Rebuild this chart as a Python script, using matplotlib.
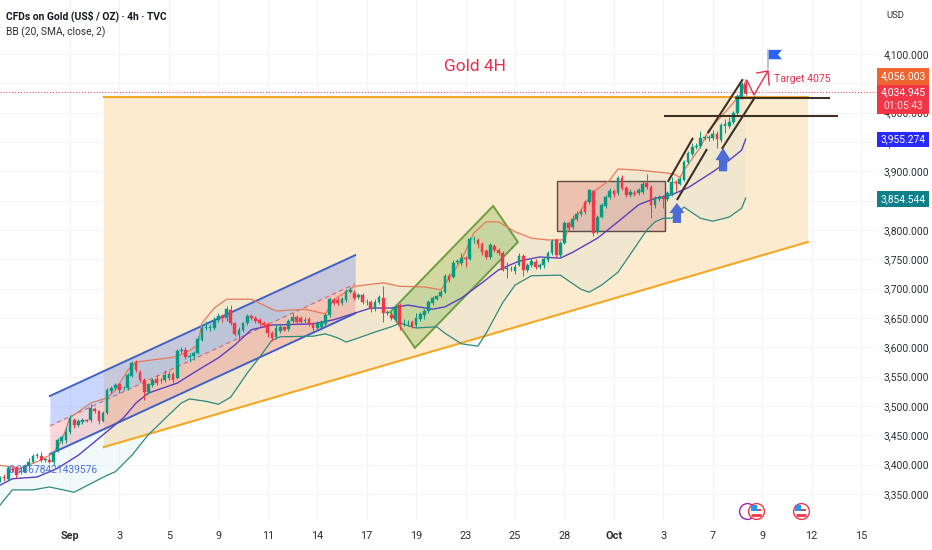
import numpy as np
import matplotlib
matplotlib.use("Agg")
import matplotlib.pyplot as plt
from matplotlib.patches import Polygon, Rectangle

plt.rcParams["font.family"] = ["Roboto", "DejaVu Sans"]

# ---- palette ----
UP     = "#089981"
DOWN   = "#f23645"
ORANGE = "#f5a623"
SAND   = "#fdebd0"
DARK   = "#3e2f23"
BLUE   = "#3f5fc9"
ARROW  = "#4a6cd4"
TEXT   = "#2a2e39"
RED    = "#e5304f"

# ---- candles, one per 4h bar ----
opens = [3374, 3379, 3375, 3392, 3394, 3390, 3388, 3398, 3405, 3415, 3415, 3408, 3408, 3405, 3425, 3440, 3442, 3456, 3476, 3468,
         3473, 3476, 3476, 3495, 3491, 3474, 3488, 3525, 3530, 3537, 3530, 3530, 3551, 3575, 3558, 3544, 3524, 3536, 3546, 3544,
         3544, 3548, 3555, 3548, 3593, 3596, 3584, 3585, 3590, 3612, 3633, 3633, 3633, 3647, 3653, 3650, 3664, 3641, 3621, 3630,
         3641, 3653, 3650, 3646, 3641, 3640, 3624, 3618, 3628, 3634, 3631, 3645, 3652, 3650, 3645, 3648, 3641, 3633, 3634, 3640,
         3655, 3681, 3681, 3676, 3681, 3694, 3693, 3685, 3689, 3677, 3677, 3665, 3677, 3684, 3659, 3655, 3648, 3672, 3641, 3641,
         3643, 3638, 3648, 3655, 3662, 3676, 3682, 3687, 3694, 3722, 3720, 3746, 3743, 3752, 3750, 3784, 3783, 3776, 3764, 3754,
         3773, 3766, 3761, 3733, 3733, 3730, 3740, 3756, 3732, 3740, 3745, 3737, 3740, 3749, 3761, 3783, 3757, 3778, 3812, 3805,
         3819, 3827, 3847, 3848, 3866, 3797, 3822, 3841, 3856, 3866, 3863, 3888, 3871, 3860, 3863, 3863, 3865, 3880, 3873, 3842,
         3852, 3856, 3853, 3861, 3882, 3879, 3885, 3916, 3929, 3941, 3943, 3957, 3957, 3957, 3964, 3953, 3978, 3977, 3984, 3999,
         4027, 4049]
closes = [3377, 3377, 3394, 3391, 3382, 3388, 3398, 3405, 3415, 3416, 3408, 3409, 3405, 3420, 3442, 3447, 3456, 3480, 3468, 3474,
          3476, 3475, 3496, 3491, 3474, 3488, 3527, 3530, 3536, 3527, 3531, 3553, 3573, 3561, 3544, 3524, 3537, 3544, 3539, 3545,
          3553, 3555, 3544, 3594, 3596, 3584, 3585, 3590, 3614, 3633, 3634, 3634, 3647, 3653, 3650, 3665, 3641, 3623, 3630, 3641,
          3653, 3650, 3645, 3641, 3638, 3624, 3616, 3633, 3635, 3630, 3645, 3652, 3643, 3643, 3646, 3640, 3633, 3641, 3643, 3655,
          3682, 3676, 3676, 3682, 3696, 3698, 3684, 3689, 3677, 3678, 3665, 3677, 3686, 3659, 3660, 3650, 3669, 3640, 3642, 3642,
          3636, 3650, 3657, 3662, 3677, 3684, 3687, 3694, 3722, 3715, 3744, 3747, 3752, 3750, 3785, 3785, 3776, 3762, 3754, 3774,
          3766, 3761, 3732, 3735, 3734, 3737, 3756, 3732, 3740, 3747, 3737, 3740, 3750, 3761, 3781, 3757, 3778, 3812, 3803, 3819,
          3827, 3831, 3831, 3868, 3795, 3822, 3842, 3856, 3866, 3861, 3888, 3871, 3860, 3865, 3862, 3868, 3878, 3873, 3842, 3854,
          3856, 3852, 3863, 3882, 3880, 3887, 3916, 3931, 3941, 3944, 3957, 3958, 3958, 3964, 3955, 3979, 3980, 3984, 3999, 4028,
          4049, 4034]
highs = [3380, 3384, 3398, 3396, 3397, 3394, 3401, 3412, 3418, 3420, 3422, 3412, 3414, 3423, 3446, 3450, 3465, 3484, 3480, 3478,
         3480, 3478, 3504, 3498, 3494, 3492, 3530, 3534, 3540, 3540, 3534, 3556, 3576, 3578, 3562, 3548, 3540, 3548, 3552, 3548,
         3562, 3560, 3558, 3597, 3600, 3600, 3590, 3594, 3620, 3637, 3645, 3640, 3652, 3658, 3656, 3670, 3672, 3644, 3634, 3644,
         3656, 3656, 3654, 3650, 3645, 3643, 3628, 3640, 3638, 3637, 3648, 3658, 3655, 3654, 3652, 3652, 3644, 3645, 3646, 3658,
         3686, 3684, 3686, 3686, 3700, 3702, 3698, 3692, 3693, 3682, 3680, 3682, 3690, 3704, 3664, 3660, 3672, 3675, 3648, 3646,
         3647, 3658, 3660, 3666, 3680, 3687, 3690, 3697, 3725, 3727, 3748, 3751, 3760, 3756, 3788, 3790, 3786, 3780, 3768, 3778,
         3776, 3769, 3765, 3745, 3738, 3742, 3760, 3759, 3744, 3752, 3750, 3744, 3754, 3765, 3785, 3786, 3782, 3815, 3816, 3826,
         3832, 3836, 3851, 3870, 3869, 3826, 3846, 3860, 3872, 3870, 3892, 3893, 3875, 3870, 3868, 3872, 3884, 3895, 3876, 3858,
         3860, 3860, 3867, 3890, 3886, 3890, 3919, 3934, 3948, 3948, 3968, 3962, 3962, 3970, 3968, 3982, 3990, 3992, 4003, 4032,
         4053, 4056]
lows = [3370, 3372, 3372, 3388, 3378, 3384, 3385, 3395, 3402, 3412, 3405, 3405, 3402, 3400, 3422, 3436, 3437, 3452, 3463, 3465,
        3470, 3473, 3473, 3488, 3470, 3472, 3486, 3522, 3527, 3523, 3527, 3527, 3549, 3558, 3541, 3510, 3520, 3532, 3536, 3540,
        3541, 3545, 3540, 3546, 3590, 3580, 3575, 3578, 3588, 3610, 3630, 3628, 3630, 3644, 3644, 3645, 3638, 3620, 3612, 3626,
        3638, 3646, 3641, 3636, 3634, 3618, 3610, 3614, 3625, 3627, 3628, 3642, 3640, 3640, 3642, 3636, 3625, 3630, 3630, 3636,
        3652, 3672, 3672, 3673, 3678, 3692, 3680, 3682, 3674, 3672, 3660, 3662, 3674, 3643, 3655, 3646, 3644, 3630, 3636, 3636,
        3633, 3634, 3645, 3648, 3658, 3673, 3680, 3685, 3692, 3711, 3718, 3742, 3740, 3737, 3748, 3778, 3770, 3758, 3750, 3750,
        3762, 3758, 3730, 3718, 3730, 3725, 3738, 3722, 3728, 3737, 3733, 3733, 3736, 3746, 3758, 3754, 3754, 3776, 3798, 3801,
        3816, 3824, 3828, 3845, 3790, 3794, 3820, 3838, 3853, 3856, 3860, 3868, 3856, 3857, 3858, 3860, 3862, 3870, 3820, 3838,
        3849, 3838, 3850, 3858, 3866, 3876, 3883, 3913, 3926, 3938, 3940, 3953, 3952, 3954, 3940, 3950, 3965, 3974, 3981, 3996,
        4024, 4030]

# ---- Bollinger bands, read at the bends ----
upper_bars = [0, 5, 10, 13, 15, 17, 19, 22, 26, 28, 31, 33, 42, 45, 48, 49, 52, 55, 61, 67, 74, 79, 81, 86, 93, 97, 103, 107, 109,
              112, 115, 118, 121, 125, 129, 133, 137, 138, 144, 148, 150, 155, 162, 164, 165, 166, 170, 172, 175, 180, 181]
upper_vals = [3399, 3394, 3408, 3420, 3442, 3480, 3490, 3505, 3514, 3527, 3561, 3575, 3583, 3590, 3604, 3641, 3667, 3682, 3682,
              3662, 3665, 3657, 3681, 3704, 3710, 3704, 3703, 3698, 3718, 3749, 3795, 3814, 3814, 3797, 3786, 3783, 3783, 3803,
              3865, 3885, 3904, 3902, 3897, 3894, 3889, 3902, 3941, 3970, 3993, 4033, 4056]
basis_bars = [0, 3, 9, 14, 19, 24, 30, 33, 36, 43, 48, 53, 57, 61, 66, 76, 81, 86, 90, 95, 99, 105, 108, 112, 117, 121, 126, 131,
              136, 139, 145, 150, 155, 159, 163, 167, 173, 177, 180, 181]
basis_vals = [3365, 3376, 3379, 3394, 3416, 3445, 3480, 3505, 3522, 3539, 3561, 3582, 3604, 3630, 3638, 3640, 3647, 3658, 3667,
              3667, 3672, 3665, 3669, 3684, 3710, 3732, 3747, 3754, 3752, 3762, 3786, 3814, 3843, 3854, 3860, 3872, 3899, 3919,
              3936, 3955]
lower_bars = [0, 3, 8, 12, 18, 21, 26, 28, 32, 36, 41, 44, 46, 50, 53, 56, 60, 63, 66, 68, 76, 79, 82, 84, 87, 91, 95, 97, 101,
              106, 108, 112, 116, 118, 122, 125, 129, 136, 141, 143, 146, 150, 154, 157, 159, 161, 163, 166, 170, 173, 177, 180, 181]
lower_vals = [3331, 3357, 3357, 3362, 3353, 3364, 3382, 3388, 3416, 3451, 3485, 3505, 3512, 3508, 3503, 3515, 3556, 3583, 3612,
              3618, 3619, 3623, 3616, 3609, 3616, 3626, 3635, 3641, 3633, 3635, 3624, 3606, 3602, 3624, 3676, 3706, 3722, 3723,
              3699, 3694, 3706, 3728, 3769, 3800, 3814, 3820, 3820, 3839, 3820, 3815, 3822, 3837, 3854.5]

# ---- axis ticks ----
x_ticks  = [17, 29, 41, 53, 65, 77, 89, 101, 113, 125, 137, 149, 161, 173, 185, 197, 209]
x_labels = ["Sep", "3", "5", "9", "11", "14", "17", "19", "23", "25", "28", "Oct", "3", "7", "9", "12", "15"]
y_ticks  = list(range(3350, 4101, 50))

# ---- user drawings (bar, price) ----
wedge_x, wedge_y = [25.2, 196.1, 196.1, 25.2], [4026.7, 4026.7, 3779.6, 3430]
chan_x = [12.1, 86.2]
chan_top, chan_mid, chan_bot = [3517, 3757], [3466, 3708], [3418, 3658]
green_x, green_y = [119.7, 125.7, 100.7, 94.7], [3841, 3779.5, 3599, 3660]
box_x, box_y = [135.2, 161.4], [3798, 3883.5]
black_lines = [([178.4, 201.5], [4025, 4025]), ([161.2, 203.4], [3994, 3994]),
               ([162.1, 168.2], [3882, 3957]), ([164.3, 171.6], [3851, 3938]),
               ([175.2, 183.3], [3938, 4027]), ([171.8, 180.3], [3965, 4057])]
up_arrows = [(164.3, 3846, 3829, 3812), (175.5, 3940, 3919, 3900)]  # tip bar, tip, head base, tail
target_x, target_y = [180.8, 181.3, 183, 186.4], [4033, 4055, 4030, 4071]
head_x, head_y = [183.7, 186.4, 186.7], [4067.6, 4071, 4047]
flag_x, flag_y = [186.6, 189.8, 188.8, 189.8, 186.6], [4107, 4107, 4099, 4091, 4091]
pole_x, pole_y = [186.4, 186.4], [4107, 4076]
last_price = 4034.945
event_bars = [181.3, 183.5, 194.4]

W, H = 932, 550
fig = plt.figure(figsize=(W / 100, H / 100), dpi=100)
ax = fig.add_axes([0, 30 / H, 877 / W, 520 / H])
ax.set_xlim(0, 877 / 4.12)
ax.set_ylim(3305.7, 4192)
for s in ax.spines.values():
    s.set_visible(False)
ax.set_axisbelow(True)
ax.grid(color="#f4f4f6", lw=0.8)

ax.set_xticks(x_ticks, x_labels)
ax.set_yticks(y_ticks, [f"{v:,.3f}" for v in y_ticks])
ax.yaxis.tick_right()
ax.tick_params(axis="y", length=0, pad=4.5, labelsize=7.4, labelcolor=TEXT)
ax.tick_params(axis="x", length=0, pad=8, labelsize=7.8, labelcolor=TEXT)
for lab in ax.get_xticklabels():
    if lab.get_text() in ("Sep", "Oct"):
        lab.set_fontweight("bold")

# background drawings
ax.fill(wedge_x, wedge_y, color=SAND, lw=0, zorder=1)
ax.fill_between(chan_x, chan_mid, chan_top, color="#2962ff", alpha=0.25, lw=0, zorder=1.1)
ax.fill_between(chan_x, chan_bot, chan_mid, color=DOWN, alpha=0.2, lw=0, zorder=1.1)
ax.add_patch(Polygon(np.column_stack([green_x, green_y]), fc="#7cb34255", ec="#6f9e3e", lw=1.4, zorder=1.2))
ax.add_patch(Rectangle((box_x[0], box_y[0]), box_x[1] - box_x[0], box_y[1] - box_y[0],
                       fc="#b0304038", ec="#5d4a44", lw=1, zorder=1.2))

# bollinger
ax.fill(upper_bars + lower_bars[::-1], upper_vals + lower_vals[::-1], color="#22a7b8", alpha=0.06, lw=0, zorder=1.5)
ax.plot(upper_bars, upper_vals, color="#e8785a", lw=0.9, zorder=3)
ax.plot(basis_bars, basis_vals, color="#5a3fc0", lw=1.0, zorder=3)
ax.plot(lower_bars, lower_vals, color="#2b8a80", lw=0.9, zorder=3)

ax.plot(wedge_x[:2], wedge_y[:2], color=ORANGE, lw=1.5, zorder=2)
ax.plot(wedge_x[2:], wedge_y[2:], color=ORANGE, lw=1.5, zorder=2)
ax.plot(chan_x, chan_top, color=BLUE, lw=1.4, zorder=2)
ax.plot(chan_x, chan_bot, color=BLUE, lw=1.4, zorder=2)
ax.plot(chan_x, chan_mid, color="#e0606a", lw=0.8, ls=(0, (4, 3)), zorder=2)

# candles
bars = np.arange(len(closes))
o, c, hi, lo = map(np.array, (opens, closes, highs, lows))
cols = np.where(c >= o, UP, DOWN)
ax.vlines(bars, lo, hi, colors=cols, lw=0.7, zorder=4)
ax.bar(bars, c - o, bottom=o, width=0.66, color=cols, edgecolor=cols, lw=0.3, zorder=4.1)

# annotations
ax.axhline(last_price, color=DOWN, lw=0.7, ls=(0, (1, 2)), zorder=2.5)
for lx, ly in black_lines:
    ax.plot(lx, ly, color=DARK, lw=1.5, zorder=5, solid_capstyle="butt")
for bx, tip, base, tail in up_arrows:
    ax.fill([bx, bx + 1.85, bx + 1.0, bx + 1.0, bx - 1.0, bx - 1.0, bx - 1.85],
            [tip, base, base, tail, tail, base, base], color=ARROW, lw=0, zorder=5.5)
ax.plot(target_x, target_y, color=RED, lw=1.0, zorder=5.5)
ax.plot(head_x, head_y, color=RED, lw=1.0, zorder=5.5)
ax.plot(pole_x, pole_y, color="#b2b5be", lw=1.2, zorder=5.5)
ax.fill(flag_x, flag_y, color="#2962ff", lw=0, zorder=5.5)
ax.text(187.9, 4057, "Target 4075", color=RED, fontsize=7.6, va="center", ha="left", zorder=6)
ax.text(115.3, 4079.5, "Gold 4H", color=RED, fontsize=12.5, va="center", ha="center", zorder=6)
ax.text(2, 3391, "0.93678421439576", color="#4a6fe0", fontsize=7.4, va="center", ha="left", zorder=6)

# events row
ev_y = [3321] * 3
ax.scatter(event_bars[:1], ev_y[:1], s=130, fc="white", ec="#9c27b0", lw=1, zorder=6)
ax.scatter(event_bars[1:], ev_y[1:], s=130, fc="white", ec=DOWN, lw=1, zorder=6.1)
ax.scatter(event_bars[1:], [v - 6 for v in ev_y[1:]], s=50, marker="_", color=DOWN, lw=2, zorder=6.2)
ax.scatter(event_bars[1:], [v + 1 for v in ev_y[1:]], s=50, marker="_", color=DOWN, lw=1.4, zorder=6.2)
ax.scatter([e - 0.6 for e in event_bars[1:]], [v + 5 for v in ev_y[1:]], s=24, marker="s", color="#2196f3", lw=0, zorder=6.3)

# price scale tags
tags = [(4062, 29, "#f0652f", "4,056.003"), (4022.5, 49, DOWN, None),
        (3954, 26, "#2a2aff", "3,955.274"), (3853, 27, "#0f7f8a", "3,854.544")]
tx = ax.get_yaxis_transform()
for mid, h, col, lab in tags:
    ax.add_patch(Rectangle((1.0, mid - h / 2), 52 / 877, h, transform=tx, fc=col, ec="none", clip_on=False, zorder=7))
    if lab:
        ax.text(1 + 26 / 877, mid, lab, transform=tx, color="white", fontsize=7.4, ha="center", va="center", zorder=8)
ax.text(1 + 26 / 877, last_price, "4,034.945", transform=tx, color="white", fontsize=7.4, ha="center", va="center", zorder=8)
ax.text(1 + 26 / 877, 4011, "01:05:43", transform=tx, color="#ffe0e0", fontsize=7.4, ha="center", va="center", zorder=8)

# header
fig.text(6 / W, 1 - 16 / H, "CFDs on Gold (US$ / OZ) · 4h · TVC", color="#131722", fontsize=7.4, fontweight="bold", va="center")
fig.text(6 / W, 1 - 32 / H, "BB (20, SMA, close, 2)", color="#2a2e39", fontsize=7.4, va="center")
fig.text(886 / W, 1 - 16 / H, "USD", color=TEXT, fontsize=6.8, va="center")

fig.savefig("out.png", dpi=100, facecolor="white")
